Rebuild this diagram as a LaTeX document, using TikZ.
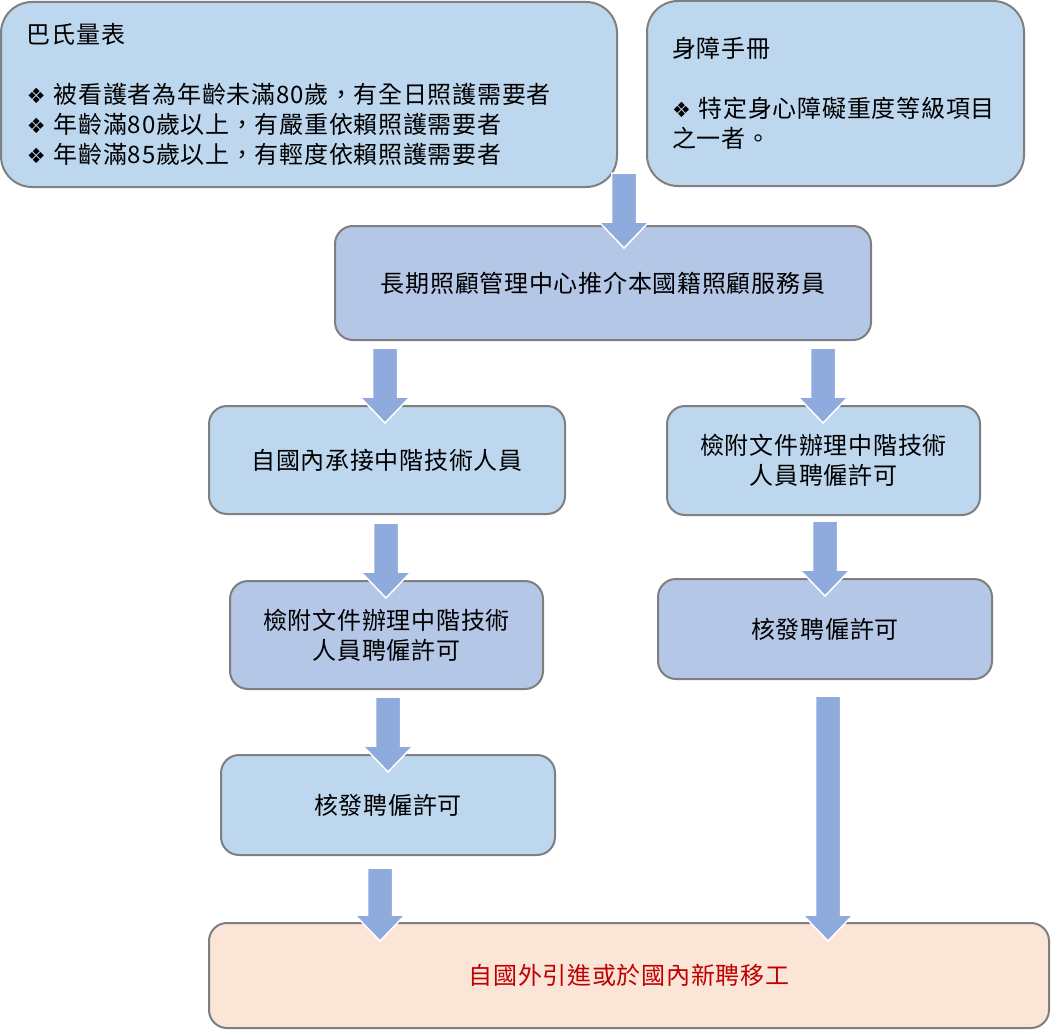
\documentclass[tikz,border=0pt]{standalone}
\usepackage{fontspec}
\setmainfont{Noto Sans CJK TC}[LetterSpace=3]
\newfontfamily\symfont{DejaVu Sans}
\usetikzlibrary{calc}

\definecolor{paleblue}{HTML}{BDD7EE}
\definecolor{midblue}{HTML}{B4C7E7}
\definecolor{peach}{HTML}{FBE5D6}
\definecolor{arrowblue}{HTML}{8FAADC}
\definecolor{boxline}{HTML}{7F7F7F}
\definecolor{darkred}{HTML}{C00000}

\newcommand{\dia}{{\symfont\fontsize{21}{21}\selectfont ❖}}
\newcommand{\blockarrow}[2]{%
  \path[flowarrow] let \p1=(#1), \p2=(#2) in
    (\x1-12.5pt,\y1) -- (\x1+12.5pt,\y1) -- (\x1+12.5pt,\y2+26pt) -- (\x1+25pt,\y2+26pt)
    -- (\x1,\y2) -- (\x1-25pt,\y2+26pt) -- (\x1-12.5pt,\y2+26pt) -- cycle;}

\begin{document}
\begin{tikzpicture}[x=1pt, y=-1pt,
	every node/.style={font=\fontsize{24}{30}\selectfont},
	box/.style={draw=boxline, line width=2pt, rounded corners=18pt, align=center},
	flowarrow/.style={fill=arrowblue, draw=white, line width=1.5pt}]
	\useasboundingbox (0,0) rectangle (1051,1030);
	\node[box, fill=paleblue, minimum width=616pt, minimum height=185pt, rounded corners=31pt, text width=564pt, inner xsep=26pt, align=left] (barthel) at (309,94.5) {巴氏量表\\[30pt]\dia~被看護者為年齡未滿80歲，有全日照護需要者\\\dia~年齡滿80歲以上，有嚴重依賴照護需要者\\\dia~年齡滿85歲以上，有輕度依賴照護需要者};
	\node[box, fill=paleblue, minimum width=377pt, minimum height=185pt, rounded corners=31pt, text width=327pt, inner xsep=25pt, align=left] (handbook) at (835.5,93.5) {身障手冊\\[30pt]\makebox[327pt][l]{\dia~特定身心障礙重度等級項目}\\之一者。};
	\node[box, fill=midblue, minimum width=536pt, minimum height=114pt] (center) at (603,283) {長期照顧管理中心推介本國籍照顧服務員};
	\node[box, fill=paleblue, minimum width=356pt, minimum height=108pt] (local) at (387,460) {自國內承接中階技術人員};
	\node[box, fill=paleblue, minimum width=313pt, minimum height=109pt] (applyR) at (823.5,460.5) {檢附文件辦理中階技術\\人員聘僱許可};
	\node[box, fill=midblue, minimum width=313pt, minimum height=108pt] (applyL) at (386.5,635) {檢附文件辦理中階技術\\人員聘僱許可};
	\node[box, fill=midblue, minimum width=334pt, minimum height=100pt] (permitR) at (825,629) {核發聘僱許可};
	\node[box, fill=paleblue, minimum width=334pt, minimum height=100pt] (permitL) at (388,805) {核發聘僱許可};
	\node[box, fill=peach, minimum width=840pt, minimum height=105pt, text=darkred] (hire) at (629,975.5) {自國外引進或於國內新聘移工};
	\foreach \k/\x/\ya/\yb in {1/624/173/248, 2/385/348/423, 3/823/348/423, 4/386/523/598,
		5/825/521/596, 6/388/697/772, 7/380/868/941, 8/828/696/941} {
		\coordinate (s\k) at (\x,\ya);
		\coordinate (e\k) at (\x,\yb);
		\blockarrow{s\k}{e\k}
	}
\end{tikzpicture}
\end{document}
